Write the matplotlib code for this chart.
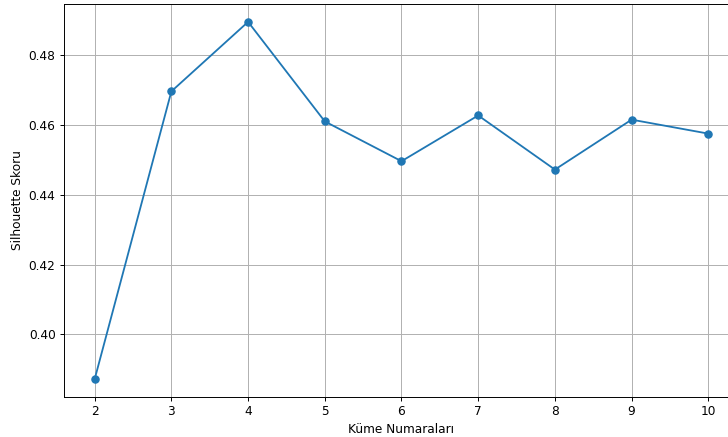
import matplotlib
matplotlib.use("Agg")
import matplotlib.pyplot as plt

clusters = [2, 3, 4, 5, 6, 7, 8, 9, 10]
scores = [0.3872, 0.4696, 0.4895, 0.4610, 0.4496, 0.4627, 0.4472, 0.4615, 0.4575]

DPI = 87
W, H = 729, 437
fig = plt.figure(figsize=(W/DPI, H/DPI), dpi=DPI)
ax = fig.add_axes([64/W, 1-397/H, (739-64)/W, (397-4)/H])
ax.plot(clusters, scores, marker='o', color='#1f77b4')
ax.set_xlabel('Küme Numaraları')
ax.set_ylabel('Silhouette Skoru')
ax.grid(True)
fig.savefig('out.png', dpi=DPI)
